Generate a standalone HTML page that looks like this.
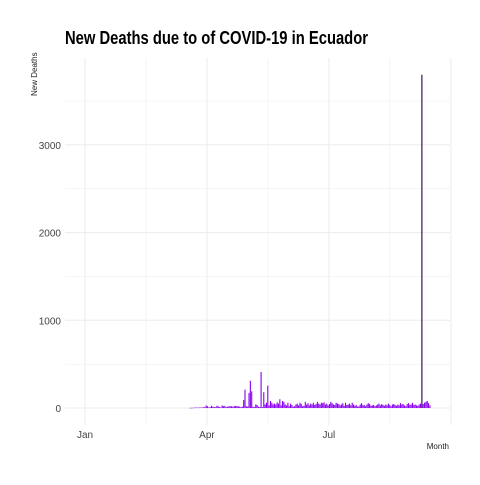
<!DOCTYPE html>
<html><head><meta charset="utf-8"><style>
body{margin:0;background:#fff;font-family:"Liberation Sans",sans-serif}
</style></head><body>
<svg id="c" width="480" height="480" xmlns="http://www.w3.org/2000/svg">
<text x="65" y="44" font-size="18" font-weight="bold" fill="#000" textLength="303" lengthAdjust="spacingAndGlyphs">New Deaths due to of COVID-19 in Ecuador</text>
<text transform="translate(37,96) rotate(-90)" font-size="8" fill="#222">New Deaths</text>
<text x="449" y="449" font-size="8" fill="#222" text-anchor="end">Month</text>
<g id="grid"></g><g id="bars"></g><g id="labels"></g>
</svg>
<script>
const startDay = 78;
const deaths = [2,2,3,4,5,5,5,5,6,6,
8,10,30,20,8,10,25,15,12,8,
25,20,10,8,30,20,25,10,15,20,
20,20,15,20,25,20,20,15,10,15,
90,210,20,15,170,310,190,15,10,40,
35,15,10,410,10,180,40,60,255,30,
80,60,40,50,40,65,50,100,30,80,
70,40,30,60,20,50,35,15,20,40,
50,30,60,45,20,25,70,40,55,30,
50,40,60,35,45,70,50,40,60,55,
65,40,50,30,45,70,55,40,35,60,
50,45,30,40,55,25,60,35,40,50,
30,60,40,25,35,15,20,40,55,30,
35,20,40,55,45,25,30,35,20,30,
40,50,30,45,35,25,40,30,50,35,
20,40,45,35,25,40,30,55,40,45,
30,20,45,55,35,40,60,35,40,30,
25,40,50,3800,45,60,70,80,55,30];
const yTicks = [0,1000,2000,3000];
const xTickLabels = ["Jan","Apr","Jul"];
const xTickDays = [0,91,182];
const ns="http://www.w3.org/2000/svg";
const X = d => 85 + d*1.34;
const Y = v => 408 - v*0.0877;
const grid=document.getElementById('grid'), bars=document.getElementById('bars'), labels=document.getElementById('labels');
function line(x1,y1,x2,y2,w,col){const l=document.createElementNS(ns,'line');l.setAttribute('x1',x1);l.setAttribute('y1',y1);l.setAttribute('x2',x2);l.setAttribute('y2',y2);l.setAttribute('stroke',col);l.setAttribute('stroke-width',w);grid.appendChild(l);return l;}
[0,500,1000,1500,2000,2500,3000,3500].forEach(v=>{
  const l=line(65,Y(v),450,Y(v),v%1000?0.5:1,'#ebebeb');
  
  
});
[0,45.5,91,136.5,182,227.5,273].forEach((d,i)=>{
  const l=line(X(d),58,X(d),425,i%2?0.5:1,'#ebebeb');
  
  
});
deaths.forEach((v,i)=>{
  const r=document.createElementNS(ns,'rect');
  const x=X(startDay+i);
  r.setAttribute('x',x);r.setAttribute('width',1.1);
  r.setAttribute('y',Y(v));r.setAttribute('height',Math.max(408-Y(v),0.5));
  r.setAttribute('fill',v>2000?'#2a0050':'#8a00f0');
  
  
  bars.appendChild(r);
});
yTicks.forEach(v=>{
  const t=document.createElementNS(ns,'text');
  t.setAttribute('x',61);t.setAttribute('y',Y(v)+4);t.setAttribute('text-anchor','end');
  t.setAttribute('font-size','10');t.setAttribute('fill','#444');t.textContent=v;
  
  
  labels.appendChild(t);
});
xTickLabels.forEach((s,i)=>{
  const t=document.createElementNS(ns,'text');
  t.setAttribute('x',X(xTickDays[i]));t.setAttribute('y',438);t.setAttribute('text-anchor','middle');
  t.setAttribute('font-size','10');t.setAttribute('fill','#444');t.textContent=s;
  
  
  labels.appendChild(t);
});
</script>
</body></html>
